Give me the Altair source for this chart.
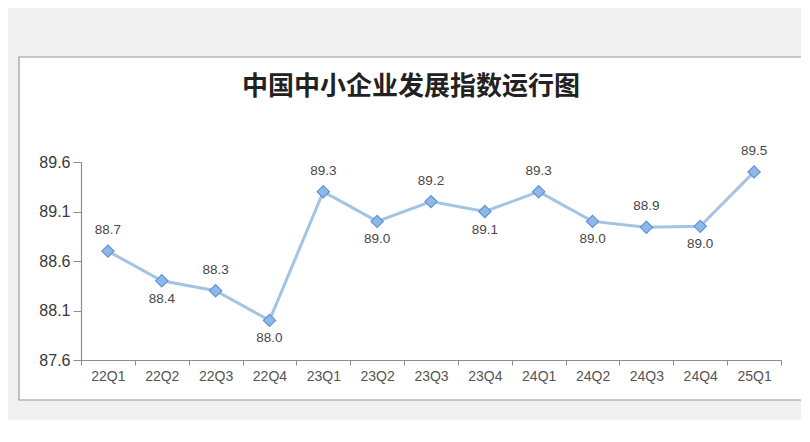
import altair as alt
import pandas as pd

quarters = ["22Q1", "22Q2", "22Q3", "22Q4", "23Q1", "23Q2", "23Q3", "23Q4",
            "24Q1", "24Q2", "24Q3", "24Q4", "25Q1"]
values = [88.7, 88.4, 88.3, 88.0, 89.3, 89.0, 89.2, 89.1, 89.3, 89.0, 88.94, 88.95, 89.5]
labels = ["88.7", "88.4", "88.3", "88.0", "89.3", "89.0", "89.2", "89.1",
          "89.3", "89.0", "88.9", "89.0", "89.5"]
y_ticks = [87.6, 88.1, 88.6, 89.1, 89.6]
title_text = "中国中小企业发展指数运行图"

df = pd.DataFrame({"q": quarters, "v": values, "label": labels})
df["side"] = ["above" if i % 2 == 0 else "below" for i in range(len(df))]
one = pd.DataFrame({"a": [0]})

FONT = "Liberation Sans"

x = alt.X("q:N", sort=quarters,
          scale=alt.Scale(type="band", paddingInner=0, paddingOuter=0),
          bandPosition=0.5,
          axis=alt.Axis(title=None, labelAngle=0, tickBand="extent", tickSize=5,
                        labelFontSize=14, labelFont=FONT, labelColor="#555555",
                        labelPadding=4, domainColor="#8c8c8c", tickColor="#8c8c8c",
                        domainWidth=1.2, zindex=1))
y = alt.Y("v:Q", scale=alt.Scale(domain=[87.6, 89.6], nice=False, zero=False),
          axis=alt.Axis(title=None, values=y_ticks, format=".1f", grid=False,
                        tickSize=8, labelFontSize=16, labelFont=FONT,
                        labelColor="#3a3a3a", labelPadding=3,
                        domainColor="#8c8c8c", tickColor="#8c8c8c",
                        domainWidth=1.2, zindex=1))

box = alt.Chart(one).mark_rect(fill="white", stroke="#9a9a9a", strokeWidth=1.2).encode(
    x=alt.value(-62), x2=alt.value(721), y=alt.value(-105), y2=alt.value(238))

title = alt.Chart(one).mark_text(
    text=title_text, font="Noto Sans CJK SC", fontSize=26, fontWeight="bold",
    color="#222222", baseline="middle", align="center").encode(
    x=alt.value(330), y=alt.value(-75))

base = alt.Chart(df)
line = base.mark_line(color="#a2c4e5", strokeWidth=3).encode(x=x, y=y)
pts = base.mark_point(shape="diamond", size=150, filled=True, fill="#8fb8e8",
                      stroke="#5f93d3", strokeWidth=1.2, opacity=1).encode(x=x, y=y)
lab_up = base.transform_filter(alt.datum.side == "above").mark_text(
    font=FONT, fontSize=13.5, color="#474747", dy=-21, baseline="middle").encode(
    x=x, y=y, text="label:N")
lab_dn = base.transform_filter(alt.datum.side == "below").mark_text(
    font=FONT, fontSize=13.5, color="#474747", dy=18, baseline="middle").encode(
    x=x, y=y, text="label:N")

chart = alt.layer(box, title, line, pts, lab_up, lab_dn).properties(
    width=700, height=198,
    autosize=alt.AutoSizeParams(type="none"),
    padding={"left": 73, "top": 154, "right": 20, "bottom": 60},
).configure(background="#f1f1f1").configure_view(stroke=None)

chart.save("out.html", embed_options={"renderer": "svg", "actions": False})
